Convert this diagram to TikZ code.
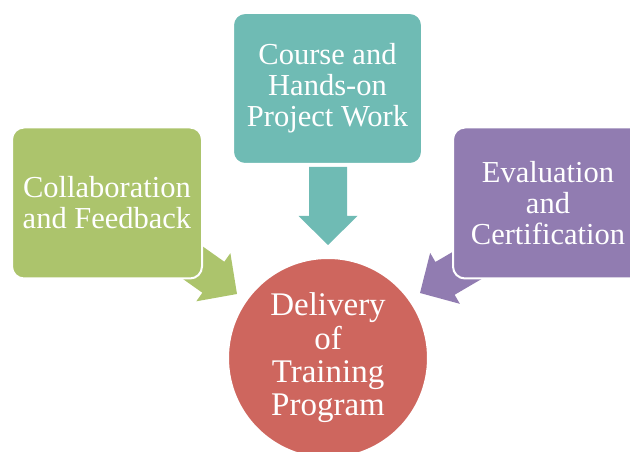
\documentclass[tikz,border=0pt]{standalone}
\usepackage{fontspec}
\setmainfont{Liberation Serif}
\definecolor{cteal}{RGB}{111,187,180}
\definecolor{cgreen}{RGB}{172,196,108}
\definecolor{cpurple}{RGB}{145,124,177}
\definecolor{cred}{RGB}{206,102,94}
\tikzset{
  box/.style={rectangle, rounded corners=12pt, draw=white, line width=2pt,
    text=white, align=center, inner sep=0pt, minimum width=190pt, minimum height=151pt,
    font=\fontsize{30.5}{31}\selectfont},
  hub/.style={circle, draw=white, line width=2pt, fill=cred, text=white, align=center,
    inner sep=0pt, minimum size=200pt, font=\fontsize{33}{33.3}\selectfont}
}
\newcommand\blkarrow[3]{%
  \begin{scope}[shift={(#1)}, rotate=#2]
    \fill[#3] (0,0) -- (-29,29.5) -- (-29,19) -- (-78,19) -- (-78,-19) -- (-29,-19) -- (-29,-29.5) -- cycle;
  \end{scope}}
\begin{document}
\begin{tikzpicture}[x=1pt,y=1pt]
\useasboundingbox (0,0) rectangle (630,452);
\clip (0,0) rectangle (630,452);
\coordinate (tipC) at (328,207);
\coordinate (tipG) at (237,158);
\coordinate (tipP) at (420,159);
\blkarrow{tipC}{-90}{cteal}
\blkarrow{tipG}{-35.3}{cgreen}
\blkarrow{tipP}{-149.7}{cpurple}
\node[box, fill=cteal, minimum width=189pt] (course) at (327.5,363.5) {Course and\\Hands-on\\Project Work};
\node[box, fill=cgreen] (collab) at (107,249) {Collaboration\\and Feedback};
\node[box, fill=cpurple] (eval) at (548,249) {Evaluation\\and\\Certification};
\node[hub] (deliv) at (328,94) {Delivery\\of\\Training\\Program};
\end{tikzpicture}
\end{document}
